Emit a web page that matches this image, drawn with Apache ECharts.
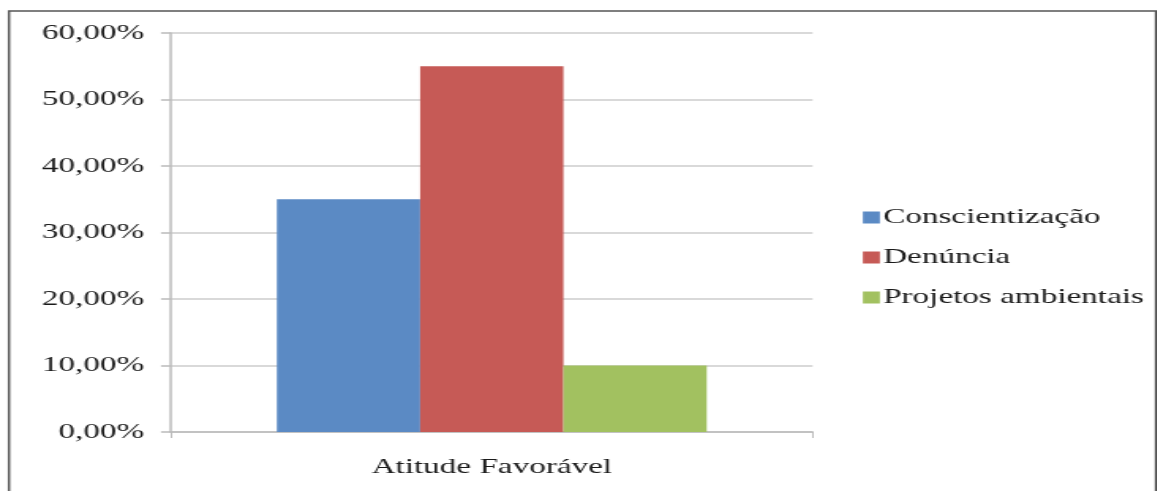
<!DOCTYPE html>
<html>
<head>
<meta charset="utf-8">
<script src="https://cdn.jsdelivr.net/npm/echarts@6/dist/echarts.min.js"></script>
<style>
  html, body { margin: 0; padding: 0; background: #fff; overflow: hidden; }
  #chart { height: 491px; transform-origin: 0 0; }
</style>
</head>
<body>
<div id="chart"></div>
<script>
// dados
const categories = ['Atitude Favorável']
const seriesNames = ['Conscientização', 'Denúncia', 'Projetos ambientais']
const conscientizacao = [35]
const denuncia = [55]
const projetos = [10]
const colors = ['#5B8AC4', '#C65A56', '#A2C160']

// a figura original está esticada na horizontal: desenha estreito e estica com CSS
const sx = 1.58
const W = 1157
const el = document.getElementById('chart')
el.style.width = (W / sx) + 'px'
el.style.transform = 'scaleX(' + sx + ')'

const chart = echarts.init(el)
const font = '"Liberation Serif", "DejaVu Serif", serif'

const option = {
  animation: false,
  color: colors,
  graphic: [{
    type: 'rect',
    shape: { x: 9 / sx, y: 11, width: 1147 / sx, height: 500 },
    style: { fill: 'none', stroke: '#555', lineWidth: 1.5 },
    silent: true
  }],
  grid: { left: 171 / sx, right: 344 / sx, top: 33, bottom: 59 },
  legend: {
    orient: 'vertical',
    left: 855 / sx,
    top: 202,
    itemWidth: 17 / sx,
    itemHeight: 12,
    itemGap: 19,
    icon: 'rect',
    textStyle: { fontFamily: font, fontSize: 21, color: '#1a1a1a', padding: [0, 0, 0, -3] },
    data: seriesNames
  },
  xAxis: {
    type: 'category',
    data: categories,
    axisLine: { lineStyle: { color: '#bbb', width: 1.5 } },
    axisTick: { show: true, length: 6, lineStyle: { color: '#bbb', width: 1.5 / sx } },
    axisLabel: { fontFamily: font, fontSize: 21, color: '#1a1a1a', margin: 25 }
  },
  yAxis: {
    type: 'value',
    min: 0,
    max: 60,
    interval: 10,
    axisLine: { show: true, lineStyle: { color: '#bbb', width: 1.5 } },
    axisTick: { show: true, length: 10 / sx, lineStyle: { color: '#bbb', width: 1.5 } },
    splitLine: { lineStyle: { color: '#ccc', width: 1.5 } },
    axisLabel: {
      fontFamily: font, fontSize: 21, color: '#1a1a1a', margin: 27 / sx,
      formatter: v => v.toFixed(2).replace('.', ',') + '%'
    }
  },
  series: [
    { name: seriesNames[0], type: 'bar', data: conscientizacao, barGap: '0%', barCategoryGap: '33%' },
    { name: seriesNames[1], type: 'bar', data: denuncia, barGap: '0%', barCategoryGap: '33%' },
    { name: seriesNames[2], type: 'bar', data: projetos, barGap: '0%', barCategoryGap: '33%' }
  ]
}

chart.setOption(option)
</script>
</body>
</html>
